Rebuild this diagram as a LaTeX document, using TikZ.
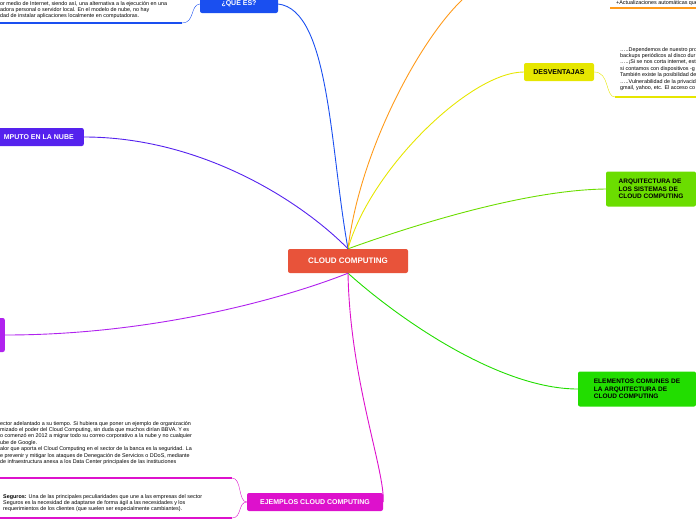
\documentclass[tikz,border=0pt]{standalone}
\usepackage{fontspec}
\setmainfont{Liberation Sans}
\usetikzlibrary{positioning}
\definecolor{cred}{HTML}{E8533A}
\definecolor{cblue}{HTML}{1A4FF0}
\definecolor{corange}{HTML}{FF9A1A}
\definecolor{cyellow}{HTML}{E6E600}
\definecolor{cgreenA}{HTML}{6BDD00}
\definecolor{cgreenB}{HTML}{22DD00}
\definecolor{cmag}{HTML}{DD11CC}
\definecolor{cviolet}{HTML}{5522EE}
\definecolor{cpurple}{HTML}{B022EE}
\begin{document}
\begin{tikzpicture}[x=1pt,y=-1pt,
        topic/.style={draw=none,rounded corners=2pt,font=\bfseries\fontsize{7}{8}\selectfont,inner sep=3pt,minimum height=18pt},
        note/.style={align=left,anchor=north west,font=\fontsize{5.4}{6.4}\selectfont,inner sep=0pt},
        branch/.style={line width=0.9pt},
        under/.style={line width=2pt}
      ]
  \useasboundingbox (0,0) rectangle (696,520);

  \node (center) [topic,fill=cred,text=white,minimum width=120pt,minimum height=24pt,font=\bfseries\fontsize{8}{9}\selectfont] at (348,261) {CLOUD COMPUTING};

  % que es
  \node (quees) [topic,fill=cblue,text=white,minimum width=78pt] at (239,4) {¿QUE ES?};
  \node (queestxt) [note] at (0,1) {or medio de Internet, siendo así, una alternativa a la ejecución en una\\adora personal o servidor local. En el modelo de nube, no hay\\dad de instalar aplicaciones localmente en computadoras.};
  \draw[branch,cblue] (center.north) .. controls (330,150) and (330,10) .. (quees.east);
  \draw[cblue] (quees.west) .. controls (190,5) and (195,23) .. (182,23) coordinate (qe);
  \draw[under,cblue] (qe) -- (0,23);

  % ventajas
  \coordinate (vtop) at (462,0);
  \draw[branch,corange] (center.north) .. controls (360,150) and (420,40) .. (vtop);
  \node (ventxt) [note] at (616,0) {+Actualizaciones automáticas que surgen de};
  \draw[under,corange] (610,8) -- (696,8);

  % desventajas
  \node (desv) [topic,fill=cyellow,minimum width=70pt] at (559,72) {DESVENTAJAS};
  \draw[branch,cyellow] (center.north) .. controls (370,170) and (470,72) .. (desv.west);
  \node (desvtxt) [note] at (620,47) {…..Dependemos de nuestro pro\\backups periódicos al disco dur\\…..¡Si se nos corta internet, est\\si contamos con dispositivos -g\\También existe la posibilidad de\\…..Vulnerabilidad de la privacid\\gmail, yahoo, etc. El acceso co};
  \draw[cyellow] (desv.east) .. controls (610,72) and (605,97) .. (615,97) coordinate (dv);
  \draw[under,cyellow] (dv) -- (696,97);

  % arquitectura
  \node (arq) [topic,fill=cgreenA,minimum width=90pt,minimum height=35pt,align=left,font=\bfseries\fontsize{6.5}{7.5}\selectfont] at (651,189) {ARQUITECTURA DE\\LOS SISTEMAS DE\\CLOUD COMPUTING};
  \draw[branch,cgreenA] (center.north) .. controls (400,230) and (520,190) .. (arq.west);

  % elementos
  \node (elem) [topic,fill=cgreenB,minimum width=118pt,minimum height=35pt,align=left,font=\bfseries\fontsize{6.5}{7.5}\selectfont] at (637,389) {ELEMENTOS COMUNES DE\\LA ARQUITECTURA DE\\CLOUD COMPUTING};
  \draw[branch,cgreenB] (center.south) .. controls (400,320) and (500,389) .. (elem.west);

  % ejemplos
  \node (ejem) [topic,fill=cmag,text=white,minimum width=136pt] at (315,502) {EJEMPLOS CLOUD COMPUTING};
  \draw[branch,cmag] (center.south) .. controls (350,380) and (385,470) .. (ejem.east);
  \node (ejemtxt) [note] at (0,421) {ector adelantado a su tiempo. Si hubiera que poner un ejemplo de organización\\mizado el poder del Cloud Computing, sin duda que muchos dirían BBVA. Y es\\o comenzó en 2012 a migrar todo su correo corporativo a la nube y no cualquier\\ube de Google.\\alor que aporta el Cloud Computing en el sector de la banca es la seguridad. La\\e prevenir y mitigar los ataques de Denegación de Servicios o DDoS, mediante\\ de infraestructura anexa a los Data Center principales de las instituciones};
  \node (segtxt) [note] at (3,494) {\textbf{Seguros:} Una de las principales peculiaridades que une a las empresas del sector\\Seguros es la necesidad de adaptarse de forma ágil a las necesidades y los\\requerimientos de los clientes (que suelen ser especialmente cambiantes).};
  \draw[cmag] (ejem.west) .. controls (238,502) and (242,478) .. (232,478) coordinate (e1);
  \draw[under,cmag] (e1) -- (0,478);
  \draw[cmag] (ejem.west) .. controls (238,502) and (242,518) .. (232,518) coordinate (e2);
  \draw[under,cmag] (e2) -- (0,518);

  % computo en la nube
  \node (nube) [topic,fill=cviolet,text=white,minimum width=90pt,anchor=east] at (84,137) {MPUTO EN LA NUBE};
  \draw[branch,cviolet] (center.north) .. controls (300,200) and (200,137) .. (nube.east);

  % purple
  \node (purp) [topic,fill=cpurple,minimum width=10pt,minimum height=34pt,anchor=east] at (5,335) {};
  \draw[branch,cpurple] (center.south) .. controls (280,300) and (150,335) .. (purp.east);
\end{tikzpicture}
\end{document}
